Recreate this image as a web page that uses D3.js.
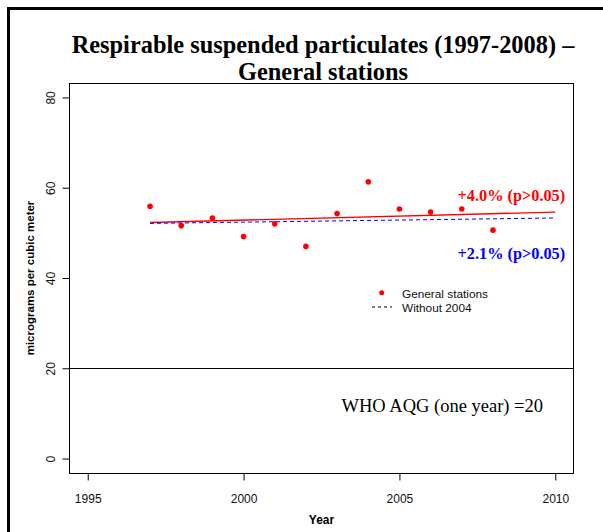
<!DOCTYPE html>
<html>
<head>
<meta charset="utf-8">
<script src="https://d3js.org/d3.v7.min.js"></script>
<style>
  html, body { margin: 0; padding: 0; background: #fff; }
  svg { display: block; }
</style>
</head>
<body>
<script>
// ---- data ----
const years = [1997, 1998, 1999, 2000, 2001, 2002, 2003, 2004, 2005, 2006, 2007, 2008];
const rsp = [55.9, 51.6, 53.3, 49.2, 52.0, 47.0, 54.3, 61.3, 55.3, 54.6, 55.3, 50.6];
const trendAllYears = [1997, 2010];
const trendAllValues = [52.3, 54.6];
const trendNo2004Years = [1997, 2010];
const trendNo2004Values = [52.1, 53.3];
const xTicks = [1995, 2000, 2005, 2010];
const yTicks = [0, 20, 40, 60, 80];
const whoLimit = 20;
const titleLines = ["Respirable suspended particulates (1997-2008) \u2013", "General stations"];
const trendLabels = ["+4.0% (p>0.05)", "+2.1% (p>0.05)"];
const legendLabels = ["General stations", "Without 2004"];

const W = 603, H = 532;
const box = { left: 69, right: 574, top: 83, bottom: 473 };

const svg = d3.select("body").append("svg").attr("width", W).attr("height", H);

const x = d3.scaleLinear().domain([1994.4, 2010.6]).range([box.left, box.right]);
const y = d3.scaleLinear().domain([-3.2, 83.2]).range([box.bottom, box.top]);

// outer frame (left and top edges visible)
svg.append("path")
  .attr("d", `M8.5,${H} L8.5,8.5 L${W},8.5`)
  .attr("fill", "none").attr("stroke", "#000").attr("stroke-width", 3);

// title
const title = svg.append("text")
  .attr("text-anchor", "middle")
  .attr("font-family", "'Liberation Serif','Times New Roman',serif")
  .attr("font-weight", "bold").attr("font-size", 24.4).attr("fill", "#000");
titleLines.forEach((t, i) => {
  title.append("tspan").attr("x", 323).attr("y", 53 + i * 27).text(t);
});

// plot box
svg.append("rect")
  .attr("x", box.left + 0.5).attr("y", box.top + 0.5)
  .attr("width", box.right - box.left - 1).attr("height", box.bottom - box.top)
  .attr("fill", "none").attr("stroke", "#000").attr("stroke-width", 1);

// axes
const axisFont = "'Liberation Sans',Arial,sans-serif";
const xAxis = svg.append("g")
  .attr("transform", `translate(0,${box.bottom + 0.5})`)
  .call(d3.axisBottom(x).tickValues(xTicks).tickFormat(d3.format("d")).tickSize(7).tickPadding(14));
xAxis.select(".domain").remove();
xAxis.selectAll("text").attr("font-family", axisFont).attr("font-size", 12).attr("fill", "#111");

const yAxis = svg.append("g")
  .attr("transform", `translate(${box.left + 0.5},0)`)
  .call(d3.axisLeft(y).tickValues(yTicks).tickFormat(d3.format("d")).tickSize(7));
yAxis.select(".domain").remove();
yAxis.selectAll("text")
  .attr("font-family", axisFont).attr("font-size", 12).attr("fill", "#111")
  .attr("x", null).attr("dy", null)
  .attr("text-anchor", "middle")
  .attr("transform", "translate(-15,0) rotate(-90)");

// axis titles
svg.append("text")
  .attr("x", 321.5).attr("y", 524)
  .attr("text-anchor", "middle")
  .attr("font-family", axisFont).attr("font-weight", "bold").attr("font-size", 12)
  .text("Year");
svg.append("text")
  .attr("transform", `translate(34,${(box.top + box.bottom) / 2}) rotate(-90)`)
  .attr("text-anchor", "middle")
  .attr("font-family", axisFont).attr("font-weight", "bold").attr("font-size", 11.5)
  .text("micrograms per cubic meter");

// WHO guideline
svg.append("line")
  .attr("x1", box.left).attr("x2", box.right)
  .attr("y1", Math.round(y(whoLimit)) + 0.5).attr("y2", Math.round(y(whoLimit)) + 0.5)
  .attr("stroke", "#000").attr("stroke-width", 1.2);
svg.append("text")
  .attr("x", 341.5).attr("y", 412)
  .attr("font-family", "'Liberation Serif','Times New Roman',serif")
  .attr("font-size", 18.5).attr("fill", "#000")
  .text("WHO AQG (one year) =" + whoLimit);

// trend lines
const line = d3.line().x(d => x(d[0])).y(d => y(d[1]));
svg.append("path")
  .datum(trendAllYears.map((yr, i) => [yr, trendAllValues[i]]))
  .attr("d", line).attr("fill", "none").attr("stroke", "#ff0000").attr("stroke-width", 1.3);
svg.append("path")
  .datum(trendNo2004Years.map((yr, i) => [yr, trendNo2004Values[i]]))
  .attr("d", line).attr("fill", "none").attr("stroke", "#0000ff").attr("stroke-width", 1)
  .attr("stroke-dasharray", "4,3");

// points
svg.append("g").selectAll("circle")
  .data(years.map((yr, i) => [yr, rsp[i]]))
  .join("circle")
  .attr("cx", d => x(d[0])).attr("cy", d => y(d[1]))
  .attr("r", 2.8).attr("fill", "#ff0000");

// trend labels
svg.append("text")
  .attr("x", 457.5).attr("y", 201)
  .attr("font-family", "'Liberation Serif','Times New Roman',serif")
  .attr("font-weight", "bold").attr("font-size", 16.3).attr("fill", "#ff0000")
  .text(trendLabels[0]);
svg.append("text")
  .attr("x", 457.5).attr("y", 258.5)
  .attr("font-family", "'Liberation Serif','Times New Roman',serif")
  .attr("font-weight", "bold").attr("font-size", 16.3).attr("fill", "#0000ff")
  .text(trendLabels[1]);

// legend
const lg = svg.append("g").attr("font-family", axisFont).attr("font-size", 11.8).attr("fill", "#111");
lg.append("circle").attr("cx", 381.7).attr("cy", 292.8).attr("r", 2.5).attr("fill", "#ff0000");
lg.append("line").attr("x1", 372).attr("x2", 392).attr("y1", 307).attr("y2", 307)
  .attr("stroke", "#000").attr("stroke-width", 1).attr("stroke-dasharray", "3,3");
lg.append("text").attr("x", 402).attr("y", 297.5).text(legendLabels[0]);
lg.append("text").attr("x", 402).attr("y", 311.5).text(legendLabels[1]);
</script>
</body>
</html>
